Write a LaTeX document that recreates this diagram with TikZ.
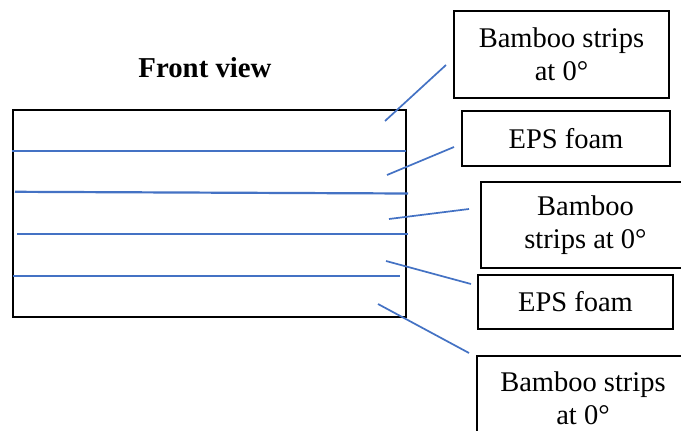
\documentclass[tikz,border=0pt]{standalone}
\usepackage{fontspec}
\setmainfont{Liberation Serif}
\definecolor{leadblue}{RGB}{68,114,196}
\tikzset{
  box/.style={draw=black, line width=1.9pt, inner sep=0pt, align=center,
    font=\fontsize{28.5}{33}\selectfont},
  layer/.style={draw=leadblue, line width=2.2pt},
  leader/.style={draw=leadblue, line width=1.7pt},
  title/.style={font=\fontsize{28.8}{33}\selectfont\bfseries, inner sep=0pt}
}
\begin{document}
\begin{tikzpicture}[x=1pt,y=-1pt]
\useasboundingbox (0,0) rectangle (681,431);
\clip (0,0) rectangle (681,431);
\fill[white] (0,0) rectangle (681,431);
% title
\node[title, anchor=base] (ttl) at (205,77) {Front view};
% panel
\node[draw=black, line width=2pt, minimum width=393pt, minimum height=207pt, inner sep=0pt, anchor=north west] (panel) at (12,109) {};
% layer interfaces
\coordinate (l1a) at (12,151.3);  \coordinate (l1b) at (406,151.3);
\coordinate (l2a) at (15,191.8);  \coordinate (l2b) at (408,193.5);
\coordinate (l3a) at (17,234);    \coordinate (l3b) at (408,234);
\coordinate (l4a) at (13,275.7);  \coordinate (l4b) at (400,275.7);
\draw[layer] (l1a) -- (l1b);
\draw[layer] (l2a) -- (l2b);
\draw[layer] (l3a) -- (l3b);
\draw[layer] (l4a) -- (l4b);
% label boxes
\node[box, minimum width=215pt, minimum height=87.5pt] (b1) at (561.5,54.3) {Bamboo strips\\at 0°};
\node[box, minimum width=208pt, minimum height=55pt] (b2) at (566,138.5) {EPS foam};
\node[box, minimum width=209pt, minimum height=86pt] (b3) at (585.5,225) {Bamboo\\strips at 0°};
\node[box, minimum width=195pt, minimum height=54pt] (b4) at (575.5,302) {EPS foam};
\node[box, minimum width=212pt, inner ysep=15.5pt, anchor=north] (b5) at (583,355) {Bamboo strips\\at 0°\rule[-12pt]{0pt}{0pt}};
% leader lines
\coordinate (s1) at (385,121); \coordinate (e1) at (446,65);
\coordinate (s2) at (387,175); \coordinate (e2) at (454,147);
\coordinate (s3) at (389,219); \coordinate (e3) at (469,209);
\coordinate (s4) at (386,261); \coordinate (e4) at (471,284);
\coordinate (s5) at (378,304); \coordinate (e5) at (469,353);
\draw[leader] (s1) -- (e1);
\draw[leader] (s2) -- (e2);
\draw[leader] (s3) -- (e3);
\draw[leader] (s4) -- (e4);
\draw[leader] (s5) -- (e5);
\end{tikzpicture}
\end{document}
